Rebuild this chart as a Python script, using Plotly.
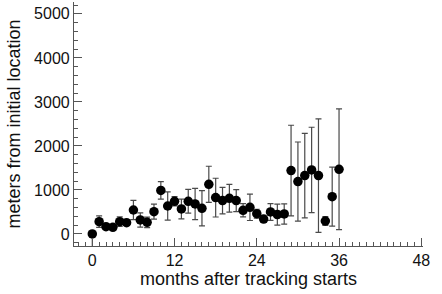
import plotly.graph_objects as go

months = list(range(0, 37))
meters = [0, 280, 166, 152, 280, 257, 545, 318, 265, 507,
          990, 636, 743, 568, 743, 682, 583, 1129, 826, 758,
          810, 758, 538, 606, 462, 340, 500, 440, 455, 1440,
          1190, 1326, 1455, 1326, 295, 848, 1470]
err_plus = [0, 130, 60, 20, 110, 60, 220, 160, 120, 170,
            200, 320, 105, 225, 270, 355, 400, 410, 440, 300,
            315, 250, 150, 300, 100, 65, 190, 240, 230, 1030,
            900, 960, 970, 1290, 100, 670, 1370]
err_minus = [290] + err_plus[1:]

x_ticks = [0, 12, 24, 36, 48]
y_ticks = [0, 1000, 2000, 3000, 4000, 5000]

axis_col = "#555555"
font_fam = "Liberation Sans, Arial, sans-serif"

fig = go.Figure()
fig.add_trace(go.Scatter(
    x=months, y=meters, mode="markers",
    marker=dict(color="black", size=9.5),
    error_y=dict(type="data", array=err_plus, arrayminus=err_minus,
                 symmetric=False, color="#4a4a4a", thickness=1.2, width=3),
    showlegend=False,
))

fig.update_layout(
    width=442, height=294,
    margin=dict(l=74, r=19, t=2, b=48),
    paper_bgcolor="white", plot_bgcolor="white",
    font=dict(family=font_fam, color="#111111", size=16),
    xaxis=dict(
        range=[-2.67, 48.25], tickvals=x_ticks, ticktext=[str(v) for v in x_ticks],
        ticks="inside", ticklen=8, tickwidth=1, tickcolor=axis_col,
        showline=True, linecolor=axis_col, linewidth=1.2,
        showgrid=False, zeroline=False, automargin=False,
        minor=dict(dtick=1, tick0=0, ticks="inside", ticklen=4, tickcolor=axis_col, tickwidth=1, showgrid=False),
        title=dict(text="months after tracking starts", font=dict(size=18), standoff=4),
        tickfont=dict(size=16),
    ),
    yaxis=dict(
        range=[-273, 5270], tickvals=y_ticks, ticktext=[str(v) for v in y_ticks],
        ticks="inside", ticklen=8, tickwidth=1, tickcolor=axis_col,
        showline=True, linecolor=axis_col, linewidth=1.2,
        showgrid=False, zeroline=False, automargin=False,
        minor=dict(dtick=200, tick0=0, ticks="inside", ticklen=4, tickcolor=axis_col, tickwidth=1, showgrid=False),
        title=dict(text="meters from initial location", font=dict(size=18), standoff=8),
        tickfont=dict(size=16),
    ),
)

fig.write_html(
    "out.html",
    config={"displayModeBar": False},
    post_script="document.body.style.margin='0';document.body.style.overflow='hidden';",
)
